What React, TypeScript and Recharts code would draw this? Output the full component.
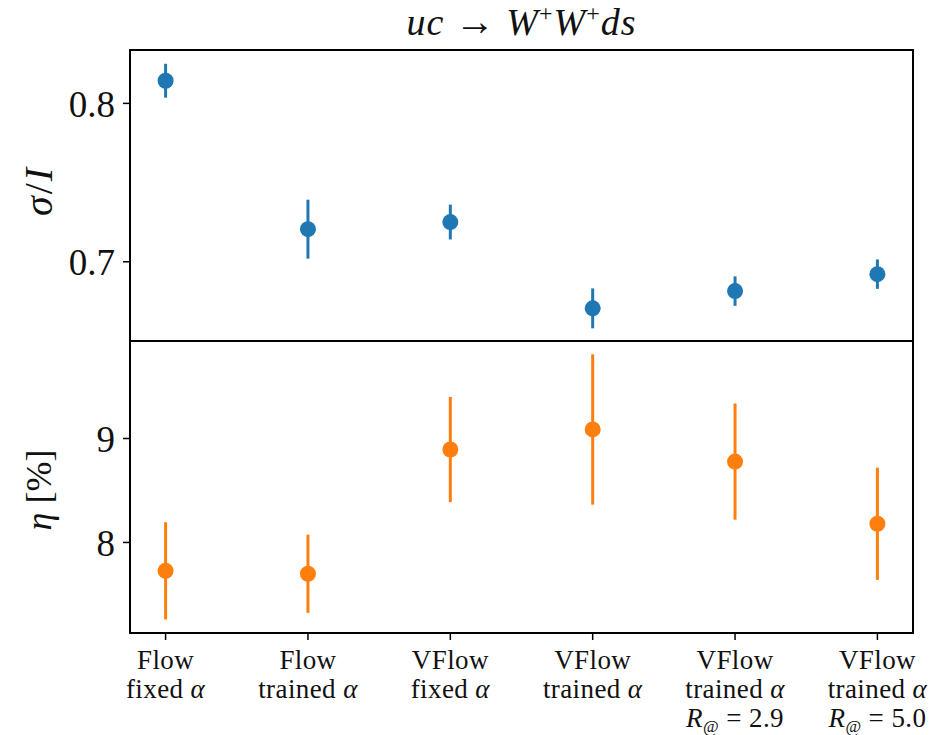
import {
  ScatterChart,
  Scatter,
  XAxis,
  YAxis,
  ErrorBar,
  ReferenceArea,
} from "recharts";

// x categories (tick labels, one entry per method)
const methodNames = ["Flow", "Flow", "VFlow", "VFlow", "VFlow", "VFlow"];
const methodAlpha = ["fixed", "trained", "fixed", "trained", "trained", "trained"];
const methodRadius = ["", "", "", "", "2.9", "5.0"];

// top panel: sigma / I
const sigmaValues = [0.8143, 0.7206, 0.7251, 0.6706, 0.6815, 0.6922];
const sigmaErrors = [0.0107, 0.0186, 0.011, 0.0126, 0.0093, 0.0093];

// bottom panel: eta [%]
const etaValues = [7.727, 7.699, 8.894, 9.087, 8.778, 8.18];
const etaErrors = [0.468, 0.376, 0.506, 0.723, 0.559, 0.54];

const sigmaTicks = [0.7, 0.8];
const etaTicks = [8, 9];

const X_DOMAIN: [number, number] = [-0.25, 5.25];
const SIGMA_DOMAIN: [number, number] = [0.65, 0.8337];
const ETA_DOMAIN: [number, number] = [7.129, 9.938];

const BLUE = "#1f77b4";
const ORANGE = "#ff7f0e";
const FONT = "Liberation Serif, DejaVu Serif, serif";

const sigmaData = sigmaValues.map((v, i) => ({ x: i, y: v, err: sigmaErrors[i] }));
const etaData = etaValues.map((v, i) => ({ x: i, y: v, err: etaErrors[i] }));

const tickStyle = { fontSize: 37, fill: "#111", fontFamily: FONT };

function MethodTick(props: any) {
  const { x, y, payload } = props;
  const i = payload.value as number;
  const lh = 29;
  return (
    <g transform={`translate(${x},${y})`}>
      <text textAnchor="middle" fontFamily={FONT} fontSize={27} fill="#111" letterSpacing={0.4}>
        <tspan x={0} y={29}>{methodNames[i]}</tspan>
        <tspan x={0} y={29 + lh}>{methodAlpha[i]} </tspan>
        <tspan fontStyle="italic">α</tspan>
        {methodRadius[i] && (
          <>
            <tspan x={0} y={29 + lh * 2} fontStyle="italic">R</tspan>
            <tspan fontSize={17} dy={5}>@</tspan>
            <tspan dy={-5}> = {methodRadius[i]}</tspan>
          </>
        )}
      </text>
    </g>
  );
}

function Dot(props: any) {
  const { cx, cy, fill } = props;
  return <circle cx={cx} cy={cy} r={8} fill={fill} />;
}

const supStyle = { fontSize: 24, fontStyle: "normal" as const, verticalAlign: "14px", lineHeight: 0 };

export default function App() {
  return (
    <div
      style={{
        position: "absolute",
        left: 0,
        top: 0,
        width: 940,
        height: 735,
        background: "#fff",
        fontFamily: FONT,
        color: "#111",
      }}
    >
      <div
        style={{
          position: "absolute",
          left: 130,
          width: 783,
          top: 2,
          textAlign: "center",
          fontSize: 38,
          lineHeight: "40px",
          fontStyle: "italic",
          letterSpacing: 1,
        }}
      >
        uc <span style={{ fontStyle: "normal", fontSize: 40 }}>→</span> W<span style={supStyle}>+</span>W
        <span style={supStyle}>+</span>ds
      </div>

      <div
        style={{
          position: "absolute",
          left: 38,
          top: 191,
          transform: "translate(-50%, -50%) rotate(-90deg)",
          whiteSpace: "nowrap",
          fontSize: 40,
          letterSpacing: 2,
        }}
      >
        <i>σ</i>/<i>I</i>
      </div>
      <div
        style={{
          position: "absolute",
          left: 39,
          top: 490,
          transform: "translate(-50%, -50%) rotate(-90deg)",
          whiteSpace: "nowrap",
          fontSize: 36,
        }}
      >
        <i>η</i> [%]
      </div>

      <div style={{ position: "absolute", left: 0, top: 0 }}>
        <ScatterChart width={940} height={341} margin={{ top: 50, right: 27, bottom: 0, left: 50 }}>
          <XAxis type="number" dataKey="x" domain={X_DOMAIN} hide />
          <YAxis
            type="number"
            dataKey="y"
            domain={SIGMA_DOMAIN}
            ticks={sigmaTicks}
            tickFormatter={(v: number) => v.toFixed(1)}
            width={80}
            axisLine={false}
            tickLine={{ stroke: "#000", strokeWidth: 1.5 }}
            tickSize={7}
            tickMargin={8}
            tick={tickStyle}
            allowDataOverflow
          />
          <ReferenceArea
            x1={X_DOMAIN[0]}
            x2={X_DOMAIN[1]}
            y1={SIGMA_DOMAIN[0]}
            y2={SIGMA_DOMAIN[1]}
            fill="none"
            stroke="#000"
            strokeWidth={2}
            ifOverflow="visible"
          />
          <Scatter data={sigmaData} fill={BLUE} shape={<Dot />} isAnimationActive={false}>
            <ErrorBar dataKey="err" direction="y" width={0} stroke={BLUE} strokeWidth={3} />
          </Scatter>
        </ScatterChart>
      </div>

      <div style={{ position: "absolute", left: 0, top: 341 }}>
        <ScatterChart width={940} height={394} margin={{ top: 0, right: 27, bottom: 2, left: 50 }}>
          <XAxis
            type="number"
            dataKey="x"
            domain={X_DOMAIN}
            ticks={[0, 1, 2, 3, 4, 5]}
            height={100}
            axisLine={false}
            tickLine={{ stroke: "#000", strokeWidth: 1.5 }}
            tickSize={7}
            tickMargin={0}
            tick={<MethodTick />}
            interval={0}
            allowDataOverflow
          />
          <YAxis
            type="number"
            dataKey="y"
            domain={ETA_DOMAIN}
            ticks={etaTicks}
            width={80}
            axisLine={false}
            tickLine={{ stroke: "#000", strokeWidth: 1.5 }}
            tickSize={7}
            tickMargin={8}
            tick={tickStyle}
            allowDataOverflow
          />
          <ReferenceArea
            x1={X_DOMAIN[0]}
            x2={X_DOMAIN[1]}
            y1={ETA_DOMAIN[0]}
            y2={ETA_DOMAIN[1]}
            fill="none"
            stroke="#000"
            strokeWidth={2}
            ifOverflow="visible"
          />
          <Scatter data={etaData} fill={ORANGE} shape={<Dot />} isAnimationActive={false}>
            <ErrorBar dataKey="err" direction="y" width={0} stroke={ORANGE} strokeWidth={3} />
          </Scatter>
        </ScatterChart>
      </div>
    </div>
  );
}
